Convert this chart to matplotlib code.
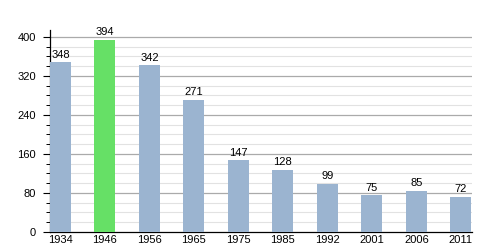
import matplotlib
matplotlib.use("Agg")
import matplotlib.pyplot as plt
import numpy as np

years = ["1934", "1946", "1956", "1965", "1975", "1985", "1992", "2001", "2006", "2011"]
population = [348, 394, 342, 271, 147, 128, 99, 75, 85, 72]
highlight = "1946"

plt.rcParams['font.family'] = ['Liberation Sans', 'DejaVu Sans']
fig = plt.figure(figsize=(5, 2.5), dpi=100)
ax = fig.add_axes([0.1, 0.072, 0.844, 0.808])

x = np.arange(len(years))
colors = ["#66e066" if y == highlight else "#9bb4d0" for y in years]
bars = ax.bar(x, population, width=0.47, color=colors, zorder=3)
for xi, v in zip(x, population):
    ax.text(xi, v + 5, str(v), ha="center", va="bottom", fontsize=8, zorder=4)

ax.set_xlim(-0.235, len(years) - 1 + 0.25)
ax.set_ylim(0, 414)
for yv in range(20, 414, 20):
    if yv % 80 == 0:
        ax.axhline(yv, color="#aaaaaa", lw=0.9, zorder=1)
    else:
        ax.axhline(yv, color="#e2e2e2", lw=0.8, zorder=1)

ax.set_xticks(x)
ax.set_xticklabels(years, fontsize=8)
ax.set_yticks(range(0, 401, 80))
ax.set_yticks(range(0, 414, 20), minor=True)
ax.tick_params(axis="y", which="major", labelsize=8, length=5, width=0.8, pad=5)
ax.tick_params(axis="y", which="minor", length=3, width=0.7)
ax.tick_params(axis="x", length=0, pad=2)
ax.spines["top"].set_visible(False)
ax.spines["right"].set_visible(False)
ax.spines["left"].set_linewidth(0.9)
ax.spines["bottom"].set_linewidth(0.9)

fig.savefig("out.png", dpi=100)
